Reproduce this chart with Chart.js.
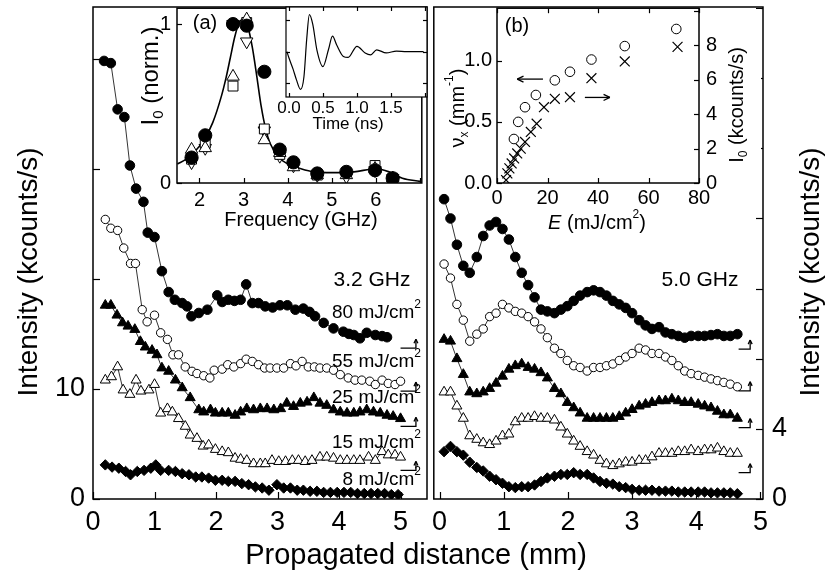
<!DOCTYPE html>
<html>
<head>
<meta charset="utf-8">
<script src="https://cdn.jsdelivr.net/npm/chart.js@4.4.1/dist/chart.umd.min.js"></script>
<style>
  html, body { margin: 0; padding: 0; background: #fff; }
  #wrap { position: relative; width: 830px; height: 582px; overflow: hidden; }
  canvas { position: absolute; }
</style>
</head>
<body>
<div id="wrap">
  <canvas id="mainL" width="830" height="582" style="left:0;top:0"></canvas>
  <canvas id="mainR" width="403" height="582" style="left:427px;top:0"></canvas>
  <canvas id="insA" width="330" height="245" style="left:100px;top:0"></canvas>
  <canvas id="insT" width="160" height="140" style="left:270px;top:0"></canvas>
  <canvas id="insB" width="333" height="240" style="left:430px;top:0"></canvas>
</div>
<script>
// ---- left panel, 3.2 GHz (distance in mm, intensity in kcounts/s, curves already offset)
const L80x = [0.18,0.29,0.40,0.51,0.60,0.70,0.82,0.89,1.00,1.12,1.23,1.33,1.45,1.53,1.60,1.72,1.86,2.02,2.10,2.20,2.30,2.40,2.49,2.59,2.69,2.80,2.92,3.04,3.16,3.29,3.42,3.52,3.61,3.75,3.91,4.07,4.16,4.24,4.34,4.45,4.59,4.70,4.78];
const L80y = [39.8,39.6,35.4,34.7,30.3,28.2,27.0,24.2,23.8,20.7,18.8,18.1,17.8,17.5,16.6,16.9,17.2,18.5,17.9,18.1,18.0,18.1,19.5,17.8,17.8,17.5,17.4,17.6,17.6,17.2,17.3,17.0,16.6,16.0,15.5,15.2,15.0,14.9,14.6,15.1,14.9,14.8,14.7];
const L55x = [0.20,0.29,0.40,0.50,0.61,0.69,0.80,0.88,1.00,1.10,1.21,1.30,1.39,1.50,1.61,1.69,1.80,1.90,1.97,2.10,2.19,2.29,2.40,2.49,2.59,2.69,2.79,2.88,2.99,3.10,3.21,3.30,3.40,3.50,3.60,3.69,3.80,3.91,4.02,4.15,4.26,4.37,4.50,4.59,4.70,4.80,4.91,5.00];
const L55y = [25.4,24.6,24.4,22.8,21.4,21.4,17.2,16.1,16.7,15.1,14.5,13.1,13.1,12.0,11.6,11.4,11.2,11.0,11.7,11.8,12.2,12.0,12.3,12.7,12.5,12.2,11.9,11.9,11.9,11.9,12.3,12.1,12.5,12.0,12.0,11.9,11.9,11.7,11.3,11.0,10.8,10.8,10.7,10.4,10.8,10.5,10.4,10.7];
const L25x = [0.20,0.29,0.39,0.48,0.57,0.68,0.77,0.85,0.96,1.04,1.12,1.23,1.34,1.45,1.58,1.72,1.80,1.91,1.99,2.10,2.20,2.31,2.40,2.50,2.61,2.72,2.83,2.94,3.05,3.15,3.26,3.37,3.48,3.59,3.69,3.80,3.91,4.02,4.13,4.24,4.34,4.45,4.56,4.67,4.78,4.88,5.00];
const L25y = [17.6,17.6,16.7,16.0,15.7,15.4,14.3,13.8,13.5,13.1,11.9,11.6,10.8,10.1,9.2,8.1,7.9,8.1,7.8,7.8,7.8,7.6,7.9,8.2,8.1,8.2,8.2,8.1,8.2,8.7,8.4,8.7,8.8,9.2,8.7,8.5,8.1,7.9,7.8,7.8,7.9,8.1,7.9,7.8,7.6,7.5,7.3];
const L15x = [0.20,0.30,0.40,0.49,0.60,0.70,0.78,0.91,1.00,1.10,1.21,1.29,1.39,1.50,1.58,1.69,1.79,1.88,1.99,2.10,2.20,2.31,2.40,2.50,2.61,2.72,2.80,2.91,3.02,3.13,3.24,3.34,3.45,3.56,3.69,3.80,3.91,4.02,4.13,4.24,4.34,4.48,4.59,4.70,4.80,4.91,5.00];
const L15y = [10.8,11.1,12.0,9.9,9.5,10.8,9.8,9.9,10.4,7.8,8.2,7.9,7.3,6.6,5.8,5.5,4.8,4.9,4.5,4.3,4.2,3.7,3.6,3.5,3.2,3.2,3.2,3.5,3.4,3.4,3.5,3.5,3.4,3.5,3.8,3.8,3.7,3.5,3.5,3.5,3.5,3.8,3.5,4.3,4.0,4.0,3.8];
const L8x = [0.20,0.31,0.42,0.53,0.61,0.72,0.83,0.94,1.02,1.10,1.23,1.34,1.45,1.56,1.67,1.77,1.88,1.99,2.10,2.20,2.31,2.42,2.53,2.64,2.75,2.86,2.99,3.10,3.21,3.32,3.42,3.53,3.64,3.75,3.86,3.97,4.08,4.19,4.30,4.41,4.52,4.63,4.74,4.85,4.96];
const L8y = [3.1,2.9,2.8,2.5,2.2,2.5,2.6,2.8,3.1,2.6,2.6,2.5,2.3,2.2,2.0,2.0,1.9,1.7,1.7,1.6,1.6,1.4,1.3,1.1,1.0,0.8,1.3,1.0,1.0,0.8,0.8,0.7,0.7,0.6,0.6,0.6,0.6,0.6,0.5,0.5,0.5,0.5,0.5,0.4,0.4];
const leftBase = [13.7, 9.8, 6.6, 2.6];

// ---- right panel, 5.0 GHz
const Rx = [0.07,0.17,0.27,0.37,0.47,0.58,0.68,0.78,0.88,0.98,1.08,1.18,1.28,1.38,1.48,1.58,1.68,1.79,1.89,1.99,2.09,2.19,2.30,2.40,2.50,2.60,2.70,2.80,2.90,3.00,3.11,3.21,3.31,3.42,3.52,3.62,3.72,3.82,3.92,4.03,4.13,4.23,4.33,4.43,4.53,4.64];
const R80y = [17.1,16.0,14.5,13.3,12.9,13.8,15.0,15.6,15.8,15.4,14.8,13.8,12.9,12.2,11.5,10.8,10.7,10.6,10.8,11.0,11.3,11.6,11.8,11.9,11.8,11.6,11.3,11.1,10.9,10.6,10.2,9.9,9.7,9.8,9.5,9.4,9.3,9.2,9.3,9.3,9.3,9.35,9.4,9.3,9.3,9.4];
const R55y = [13.4,12.6,11.1,10.2,9.0,9.4,9.7,10.4,10.6,11.1,10.9,10.7,10.6,10.4,10.1,9.7,9.2,8.6,8.3,7.9,7.6,7.5,7.3,7.5,7.5,7.6,7.7,7.9,8.1,8.3,8.6,8.5,8.3,8.3,8.1,7.9,7.6,7.3,7.15,7.05,6.95,6.85,6.75,6.65,6.55,6.4];
const R25y = [9.1,9.0,8.0,7.1,6.1,6.0,6.1,6.3,6.6,7.0,7.4,7.6,7.7,7.5,7.4,7.2,6.9,6.3,6.0,5.5,5.2,4.9,4.6,4.6,4.6,4.6,4.6,4.7,4.9,5.1,5.3,5.4,5.5,5.6,5.6,5.7,5.6,5.5,5.5,5.4,5.3,5.2,5.0,4.8,4.8,4.6];
const R15y = [6.1,6.1,5.3,4.6,3.6,3.4,3.2,3.1,3.3,3.6,3.7,4.4,4.6,4.6,4.7,4.6,4.6,4.5,4.1,3.7,3.3,3.0,2.7,2.5,2.2,2.0,1.9,2.0,2.1,2.1,2.2,2.2,2.4,2.6,2.6,2.6,2.7,2.7,2.8,2.7,2.8,2.8,2.9,2.7,2.6,2.6];
const R8y = [2.7,3.0,2.7,2.5,2.1,1.8,1.6,1.3,1.1,0.9,0.7,0.65,0.7,0.7,0.8,1.0,1.2,1.3,1.4,1.4,1.5,1.4,1.4,1.2,1.0,0.9,0.85,0.7,0.65,0.55,0.5,0.5,0.5,0.45,0.45,0.45,0.4,0.4,0.4,0.4,0.4,0.35,0.35,0.35,0.35,0.3];
const rightBase = [8.55, 6.17, 4.07, 1.5];

// ---- inset (a): I0 (norm.) vs frequency
const freq = [1.82,2.13,2.76,3.07,3.47,3.82,4.13,4.67,5.33,5.98,6.38];
const aCirc = [0.16,0.30,1.00,0.99,0.70,0.21,0.13,0.06,0.07,0.08,0.03];
const aUp = [0.21,0.22,0.67,1.03,0.27,0.19,0.10,0.05,0.05,0.09,0.03];
const aSq = [0.15,0.25,0.61,1.01,0.34,0.18,0.12,0.05,0.06,0.11,0.03];
const aDown = [0.13,0.22,1.00,0.89,0.33,0.17,0.11,0.05,0.04,0.08,0.03];
const fitF = [1.5,1.7,1.9,2.1,2.3,2.5,2.6,2.7,2.8,2.9,3.0,3.1,3.2,3.3,3.4,3.5,3.6,3.8,4.0,4.3,4.6,5.0,5.5,6.0,6.3,6.6,7.0];
const fitI = [0.12,0.15,0.20,0.27,0.38,0.55,0.66,0.79,0.92,1.01,1.03,0.98,0.85,0.67,0.48,0.34,0.25,0.16,0.12,0.09,0.07,0.065,0.07,0.09,0.07,0.03,0.01];

// ---- time trace inset
const tT = [-0.03,0.00,0.06,0.11,0.17,0.22,0.26,0.30,0.35,0.41,0.50,0.58,0.64,0.70,0.80,0.87,1.00,1.12,1.20,1.29,1.43,1.58,1.73,1.98];
const tV = [0.0,-0.2,-0.55,-0.89,-1.19,-0.79,0.38,1.17,0.86,0.06,-0.47,0.06,0.49,0.22,-0.15,-0.18,0.17,-0.04,-0.10,0.06,-0.04,0.02,0.0,0.0];

// ---- inset (b): vs fluence
const bCircE = [6.7,8.4,11.1,15.4,22.9,28.9,37.4,50.6,71.0];
const bCircNu = [0.36,0.50,0.62,0.72,0.84,0.91,1.01,1.12,1.26];
const bCrossE = [3.6,4.1,4.9,5.8,6.8,8.0,9.4,11.1,13.4,15.7,18.6,22.9,28.9,37.4,50.6,71.5];
const bCrossI = [0.17,0.56,0.85,1.14,1.43,1.72,2.0,2.39,2.97,3.45,4.41,4.9,4.99,6.1,7.07,7.92];

const FAM = '"Liberation Sans", Arial, Helvetica, sans-serif';
Chart.defaults.font.family = FAM;
Chart.defaults.color = '#000';
Chart.defaults.animation = false;

const sup = t => ({ t, sc: 0.62, dy: -0.42 });
const sub = t => ({ t, sc: 0.62, dy: 0.32 });

function pts(xs, ys) { return xs.map((x, i) => ({ x, y: ys[i] })); }

function series(xs, ys, style, filled, r, extra) {
  return Object.assign({
    data: pts(xs, ys), showLine: true, borderColor: '#000', borderWidth: 0.8,
    pointStyle: style, pointRadius: r, pointBackgroundColor: filled ? '#000' : '#fff',
    pointBorderColor: '#000', pointBorderWidth: 1
  }, extra || {});
}

function drawText(ctx, it, ox, oy) {
  const parts = it.parts || [{ t: it.t }];
  ctx.save();
  ctx.translate(it.x - ox, it.y - oy);
  if (it.rot) ctx.rotate(it.rot * Math.PI / 180);
  ctx.fillStyle = '#000';
  ctx.textBaseline = 'middle';
  ctx.textAlign = 'left';
  const fontOf = p => (p.it ? 'italic ' : '') + Math.round(it.size * (p.sc || 1)) + 'px ' + FAM;
  let w = 0;
  parts.forEach(p => { ctx.font = fontOf(p); p._w = ctx.measureText(p.t).width; w += p._w; });
  let x = it.align === 'right' ? -w : (it.align === 'left' ? 0 : -w / 2);
  parts.forEach(p => { ctx.font = fontOf(p); ctx.fillText(p.t, x, (p.dy || 0) * it.size); x += p._w; });
  ctx.restore();
}

function arrowHead(ctx, x, y, ang, len) {
  ctx.beginPath();
  ctx.moveTo(x, y);
  ctx.lineTo(x - len * Math.cos(ang - 0.45), y - len * Math.sin(ang - 0.45));
  ctx.moveTo(x, y);
  ctx.lineTo(x - len * Math.cos(ang + 0.45), y - len * Math.sin(ang + 0.45));
  ctx.stroke();
}

// frame, inward ticks, free text, baseline marks, arrows
const deco = {
  id: 'deco',
  beforeDraw(chart, args, o) {
    const { ctx, chartArea: a } = chart;
    const ox = chart.canvas.offsetLeft, oy = chart.canvas.offsetTop;
    ctx.save();
    ctx.fillStyle = '#fff';
    if (o.whiteRect) {
      const r = o.whiteRect;
      ctx.fillRect(r[0] - ox, r[1] - oy, r[2] - r[0], r[3] - r[1]);
    }
    if (o.white) ctx.fillRect(a.left, a.top, a.width, a.height);
    ctx.restore();
  },
  afterDraw(chart, args, o) {
    const { ctx, chartArea: a, scales } = chart;
    const ox = chart.canvas.offsetLeft, oy = chart.canvas.offsetTop;
    ctx.save();
    ctx.strokeStyle = '#000';
    ctx.lineWidth = o.lw || 1.5;
    ctx.strokeRect(a.left, a.top, a.width, a.height);
    ctx.lineWidth = 1.2;
    (o.ticks || []).forEach(t => {
      const s = scales[t.id];
      s.ticks.forEach(tk => {
        const p = Math.round(s.getPixelForValue(tk.value)) + 0.5;
        ctx.beginPath();
        if (t.side === 'bottom') { ctx.moveTo(p, a.bottom); ctx.lineTo(p, a.bottom - t.len); }
        if (t.side === 'top') { ctx.moveTo(p, a.top); ctx.lineTo(p, a.top + t.len); }
        if (t.side === 'left') { ctx.moveTo(a.left, p); ctx.lineTo(a.left + t.len, p); }
        if (t.side === 'right') { ctx.moveTo(a.right, p); ctx.lineTo(a.right - t.len, p); }
        ctx.stroke();
      });
    });
    // offset markers: short baseline with upward arrow
    ctx.lineWidth = 1.3;
    (o.bases || []).forEach(b => {
      const sx = scales.x, sy = scales[b.yid || 'y'];
      b.vals.forEach(v => {
        const x0 = sx.getPixelForValue(b.x0), x1 = sx.getPixelForValue(b.x1), y = sy.getPixelForValue(v);
        ctx.beginPath();
        ctx.moveTo(x0, y); ctx.lineTo(x1, y); ctx.lineTo(x1, y - 9);
        ctx.stroke();
        arrowHead(ctx, x1, y - 9, -Math.PI / 2, 4.5);
      });
    });
    (o.arrows || []).forEach(ar => {
      const sx = scales.x, sy = scales[ar.yid || 'y'];
      const x0 = sx.getPixelForValue(ar.from[0]), y0 = sy.getPixelForValue(ar.from[1]);
      const x1 = sx.getPixelForValue(ar.to[0]), y1 = sy.getPixelForValue(ar.to[1]);
      ctx.lineWidth = 1.3;
      ctx.beginPath(); ctx.moveTo(x0, y0); ctx.lineTo(x1, y1); ctx.stroke();
      arrowHead(ctx, x1, y1, Math.atan2(y1 - y0, x1 - x0), 7);
    });
    (o.texts || []).forEach(it => drawText(ctx, it, ox, oy));
    ctx.restore();
  }
};
Chart.register(deco);

function fixAxis(prop, val) {
  return s => {
    s[prop] = val;
    s.paddingLeft = 0; s.paddingRight = 0; s.paddingTop = 0; s.paddingBottom = 0;
  };
}
function axis(min, max, step, fit, tick, more) {
  return Object.assign({
    type: 'linear', min, max, afterFit: fit,
    grid: { display: false, drawTicks: false }, border: { display: false },
    ticks: Object.assign({ stepSize: step, includeBounds: false, autoSkip: false, maxRotation: 0 }, tick)
  }, more || {});
}
const base = { responsive: false, maintainAspectRatio: false, events: [],
  plugins: { legend: { display: false }, tooltip: { enabled: false } } };
function opts(padding, scales, decoOpts) {
  return Object.assign({}, base, { layout: { padding }, scales,
    plugins: Object.assign({}, base.plugins, { deco: decoOpts }) });
}

const mjLabel = (n, y) => ({ parts: [{ t: n + ' mJ/cm' }, sup('2')], x: 421, y, size: 19, align: 'right' });

// ---------- main left panel
new Chart(document.getElementById('mainL'), {
  type: 'scatter',
  data: { datasets: [
    series(L80x, L80y, 'circle', true, 4.8),
    series(L55x, L55y, 'circle', false, 4.2),
    series(L25x, L25y, 'triangle', true, 5.8),
    series(L15x, L15y, 'triangle', false, 5.8),
    series(L8x, L8y, 'rectRot', true, 5.2)
  ] },
  options: opts({ left: 0, top: 7, right: 403, bottom: 0 }, {
    x: axis(0, 5.43, 1, fixAxis('height', 83), { font: { size: 27 }, padding: 7 }),
    y: axis(0, 44.7, 10, fixAxis('width', 93),
      { font: { size: 27 }, padding: 8, callback: v => (v <= 10 ? v : '') })
  }, {
    ticks: [{ id: 'x', side: 'bottom', len: 7 }, { id: 'y', side: 'left', len: 7 }],
    bases: [{ x0: 5.0, x1: 5.25, vals: leftBase }],
    texts: [
      { t: 'Intensity (kcounts/s)', x: 29, y: 272, size: 27.5 },
      { t: 'Intensity (kcounts/s)', x: 811, y: 272, size: 27.5 },
      { t: 'Propagated distance (mm)', x: 416, y: 556, size: 28.5 },
      { t: '3.2 GHz', x: 372, y: 280, size: 20.5 },
      mjLabel('80', 313), mjLabel('55', 362), mjLabel('25', 398), mjLabel('15', 443), mjLabel('8', 480)
    ].map((t, i) => (i < 2 ? Object.assign(t, { rot: -90 }) : t))
  })
});

// ---------- main right panel
new Chart(document.getElementById('mainR'), {
  type: 'scatter',
  data: { datasets: [
    series(Rx, R80y, 'circle', true, 4.8),
    series(Rx, R55y, 'circle', false, 4.2),
    series(Rx, R25y, 'triangle', true, 5.8),
    series(Rx, R15y, 'triangle', false, 5.8),
    series(Rx, R8y, 'rectRot', true, 5.2)
  ] },
  options: opts({ left: 0, top: 7, right: 0, bottom: 0 }, {
    x: axis(-0.09, 5.04, 1, fixAxis('height', 83), { font: { size: 27 }, padding: 7 }),
    y: axis(0, 28.06, 4, fixAxis('width', 67),
      { font: { size: 27 }, padding: 9, callback: v => (v <= 4 ? v : '') }, { position: 'right' })
  }, {
    ticks: [{ id: 'x', side: 'bottom', len: 7 }, { id: 'y', side: 'right', len: 7 }],
    bases: [{ x0: 4.66, x1: 4.84, vals: rightBase }],
    texts: [{ t: '5.0 GHz', x: 700, y: 280, size: 20.5 }]
  })
});

// ---------- inset (a)
new Chart(document.getElementById('insA'), {
  type: 'scatter',
  data: { datasets: [
    series(freq, aCirc, 'circle', true, 6.6, { showLine: false }),
    series(freq, aUp, 'triangle', false, 7.2, { showLine: false }),
    series(freq, aSq, 'rect', false, 7, { showLine: false }),
    series(freq, aDown, 'triangle', false, 7.2, { showLine: false, pointRotation: 180 }),
    { data: pts(fitF, fitI), showLine: true, pointRadius: 0, borderColor: '#000', borderWidth: 1.6,
      cubicInterpolationMode: 'monotone' }
  ] },
  options: opts({ left: 0, top: 7, right: 3, bottom: 0 }, {
    x: axis(1.49, 7.04, 1, fixAxis('height', 62),
      { font: { size: 20 }, padding: 5, callback: v => (v <= 6 ? v : '') }),
    y: axis(0, 1.1, 1, fixAxis('width', 77), { font: { size: 20 }, padding: 6 })
  }, {
    white: true,
    ticks: [{ id: 'x', side: 'bottom', len: 5 }, { id: 'y', side: 'left', len: 5 }],
    texts: [
      { t: '(a)', x: 205, y: 23, size: 20 },
      { parts: [{ t: 'I' }, sub('0'), { t: ' (norm.)' }], x: 151, y: 76, size: 24, rot: -90 },
      { t: 'Frequency (GHz)', x: 301, y: 220, size: 20 }
    ]
  })
});

// ---------- time trace inset
new Chart(document.getElementById('insT'), {
  type: 'scatter',
  data: { datasets: [
    { data: pts(tT, tV), showLine: true, pointRadius: 0, borderColor: '#000', borderWidth: 1.2,
      cubicInterpolationMode: 'monotone' }
  ] },
  options: opts({ left: 0, top: 7, right: 3, bottom: 0 }, {
    x: axis(-0.044, 2.03, 0.5, fixAxis('height', 43),
      { font: { size: 17 }, padding: 1, callback: v => (v < 1.9 ? v.toFixed(1) : '') }),
    y: axis(-1.43, 1.41, 1, fixAxis('width', 16), { display: false })
  }, {
    white: true, lw: 1.2,
    ticks: [{ id: 'x', side: 'bottom', len: 4 }, { id: 'x', side: 'top', len: 4 },
            { id: 'y', side: 'left', len: 4 }, { id: 'y', side: 'right', len: 4 }],
    texts: [{ t: 'Time (ns)', x: 348, y: 124, size: 17 }]
  })
});

// ---------- inset (b)
new Chart(document.getElementById('insB'), {
  type: 'scatter',
  data: { datasets: [
    series(bCircE, bCircNu, 'circle', false, 4.8, { showLine: false, yAxisID: 'y' }),
    series(bCrossE, bCrossI, 'crossRot', false, 7, { showLine: false, yAxisID: 'y2', pointBorderWidth: 1.2 })
  ] },
  options: opts({ left: 0, top: 7, right: 0, bottom: 0 }, {
    x: axis(0, 80, 20, fixAxis('height', 57), { font: { size: 20 }, padding: 3 }),
    y: axis(0, 1.43, 0.5, fixAxis('width', 67), { font: { size: 20 }, padding: 5, callback: v => v.toFixed(1) }),
    y2: axis(0, 10.17, 2, fixAxis('width', 64),
      { font: { size: 20 }, padding: 7, callback: v => (v <= 8 ? v : '') }, { position: 'right' })
  }, {
    white: true, whiteRect: [448, 9, 761, 188],
    ticks: [{ id: 'x', side: 'bottom', len: 5 }, { id: 'x', side: 'top', len: 5 },
            { id: 'y', side: 'left', len: 5 }, { id: 'y2', side: 'right', len: 5 }],
    arrows: [{ from: [18.2, 0.85], to: [8.0, 0.85] }, { from: [34.8, 0.70], to: [44.7, 0.70] }],
    texts: [
      { t: '(b)', x: 517, y: 26, size: 20 },
      { parts: [{ t: 'E', it: true }, { t: ' (mJ/cm' }, sup('2'), { t: ')' }], x: 597, y: 223, size: 20 },
      { parts: [{ t: 'ν' }, sub('x'), { t: ' (mm' }, sup('-1'), { t: ')' }], x: 458, y: 108, size: 20, rot: -90 },
      { parts: [{ t: 'I' }, sub('0'), { t: ' (kcounts/s)' }], x: 737, y: 105, size: 20, rot: -90 }
    ]
  })
});
</script>
</body>
</html>
